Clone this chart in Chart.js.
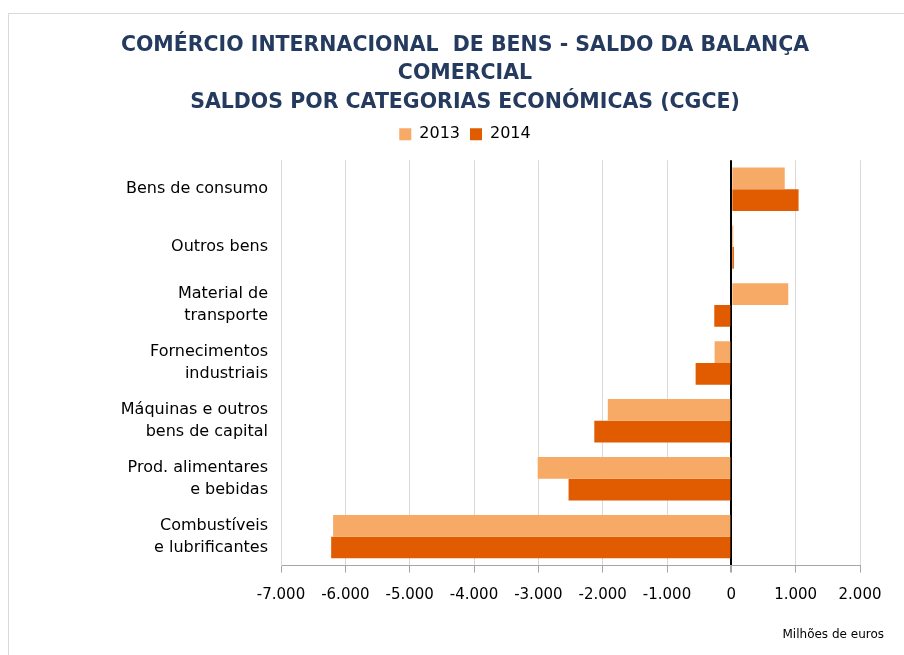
<!DOCTYPE html>
<html>
<head>
<meta charset="utf-8">
<script src="https://cdn.jsdelivr.net/npm/chart.js@4"></script>
<style>
  html, body { margin: 0; padding: 0; background: #fff; }
  body { width: 904px; height: 655px; position: relative; overflow: hidden; }
  #frame { position: absolute; left: 8px; top: 13px; width: 1000px; height: 1000px; border: 1px solid #d9d9d9; box-sizing: border-box; }
  #wrap { position: absolute; left: 0; top: 0; width: 904px; height: 655px; }
</style>
</head>
<body>
<div id="frame"></div>
<div id="wrap"><canvas id="balChart"></canvas></div>
<script>
// categorias económicas (de cima para baixo)
const categorias = [
    'Bens de consumo',
    'Outros bens',
    ['Material de', 'transporte'],
    ['Fornecimentos', 'industriais'],
    ['Máquinas e outros', 'bens de capital'],
    ['Prod. alimentares', 'e bebidas'],
    ['Combustíveis', 'e lubrificantes']
];
// saldos em milhões de euros
const saldo2013 = [830, 30, 885, -260, -1920, -3010, -6190];
const saldo2014 = [1045, 40, -265, -555, -2130, -2530, -6220];
const xTicks = [-7000, -6000, -5000, -4000, -3000, -2000, -1000, 0, 1000, 2000];

const fonte = "'DejaVu Sans', Verdana, sans-serif";

document.addEventListener("DOMContentLoaded", function() {
    let ctx = document.getElementById('balChart').getContext('2d');
    new Chart(ctx, {
        type: 'bar',
        data: {
            labels: categorias,
            datasets: [{
                label: '2013',
                data: saldo2013,
                backgroundColor: '#f7a966',
                borderWidth: 0
            }, {
                label: '2014',
                data: saldo2014,
                backgroundColor: '#e15b00',
                borderWidth: 0
            }]
        },
        options: {
            indexAxis: 'y',
            responsive: true,
            maintainAspectRatio: false,
            animation: false,
            layout: { padding: { top: 13, right: 20, bottom: 8, left: 46 } },
            datasets: { bar: { barPercentage: 1, categoryPercentage: 0.75 } },
            plugins: {
                title: {
                    display: true,
                    text: ['COMÉRCIO INTERNACIONAL  DE BENS - SALDO DA BALANÇA', 'COMERCIAL', 'SALDOS POR CATEGORIAS ECONÓMICAS (CGCE)'],
                    color: '#243a5e',
                    font: { family: fonte, size: 20.5, weight: 'bold', lineHeight: 1.37 },
                    padding: { top: 19, bottom: 0 }
                },
                subtitle: {
                    display: true,
                    position: 'bottom',
                    align: 'end',
                    text: 'Milhões de euros',
                    color: '#000',
                    font: { family: fonte, size: 12 },
                    padding: { top: 9, bottom: 5 }
                },
                legend: {
                    labels: {
                        boxWidth: 12,
                        boxHeight: 12,
                        color: '#000',
                        font: { family: fonte, size: 16 },
                        padding: 10
                    }
                },
                tooltip: { enabled: false }
            },
            scales: {
                x: {
                    min: -7000,
                    max: 2000,
                    afterBuildTicks: function(scale) {
                        scale.ticks = xTicks.map(v => ({ value: v }));
                    },
                    grid: {
                        color: c => (c.tick && c.tick.value === 0) ? '#000' : '#d9d9d9',
                        lineWidth: c => (c.tick && c.tick.value === 0) ? 2 : 1,
                        tickColor: '#a6a6a6',
                        tickLength: 7
                    },
                    border: { color: '#a6a6a6' },
                    ticks: {
                        color: '#000',
                        font: { family: fonte, size: 15 },
                        padding: 14,
                        callback: v => v === 0 ? '0' : v.toLocaleString('de-DE')
                    }
                },
                xTop: {
                    position: 'top',
                    afterFit: function(scale) { scale.height = 8; },
                    grid: { display: false },
                    border: { display: false },
                    ticks: { display: false }
                },
                y: {
                    afterFit: function(scale) { scale.width = 235; },
                    grid: { display: false, drawTicks: false, tickLength: 0 },
                    border: { color: '#d9d9d9' },
                    ticks: {
                        color: '#000',
                        font: { family: fonte, size: 16, lineHeight: 1.4 },
                        padding: 13
                    }
                },
                y2: {
                    position: 'right',
                    afterFit: function(scale) { scale.width = 24; },
                    grid: { display: false },
                    border: { display: false },
                    ticks: { display: false }
                }
            }
        }
    });
});
</script>
</body>
</html>
